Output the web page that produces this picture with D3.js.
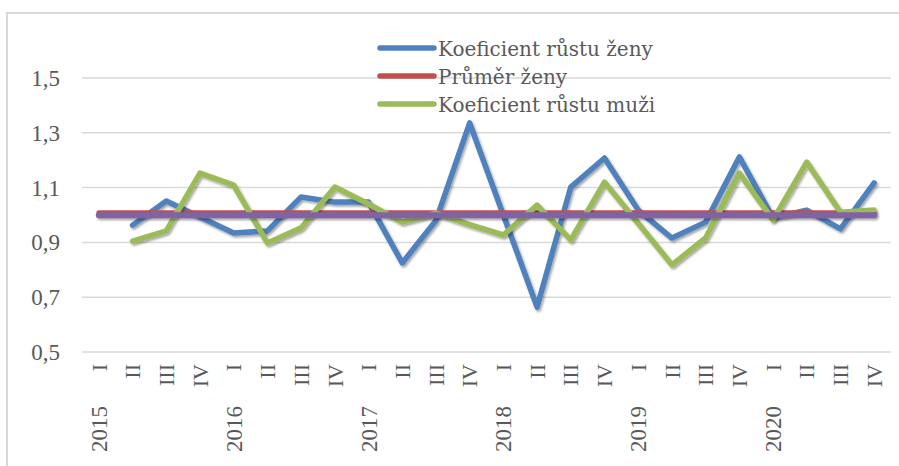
<!DOCTYPE html>
<html>
<head>
<meta charset="utf-8">
<script src="https://cdn.jsdelivr.net/npm/d3@7"></script>
<style>
  html, body { margin: 0; padding: 0; background: #fff; }
  svg { display: block; }
</style>
</head>
<body>
<div id="chart"></div>
<script>
// kategorie (čtvrtletí) a roky
const quarters = ["I", "II", "III", "IV", "I", "II", "III", "IV", "I", "II", "III", "IV",
                  "I", "II", "III", "IV", "I", "II", "III", "IV", "I", "II", "III", "IV"];
const years = ["2015", "2016", "2017", "2018", "2019", "2020"];
const yTicks = [0.5, 0.7, 0.9, 1.1, 1.3, 1.5];

// hodnoty
const koefZeny = [null, 0.963, 1.051, 0.993, 0.934, 0.942, 1.066, 1.047, 1.047, 0.825, 0.98, 1.336,
                  1.0, 0.664, 1.102, 1.208, 1.018, 0.916, 0.974, 1.212, 0.99, 1.018, 0.949, 1.117];
const prumerZeny = [1.008, 1.008, 1.008, 1.008, 1.008, 1.008, 1.008, 1.008, 1.008, 1.008, 1.008, 1.008,
                    1.008, 1.008, 1.008, 1.008, 1.008, 1.008, 1.008, 1.008, 1.008, 1.008, 1.008, 1.008];
const koefMuzi = [null, 0.905, 0.942, 1.153, 1.109, 0.898, 0.953, 1.102, 1.04, 0.974, 1.007, 0.965,
                  0.927, 1.036, 0.909, 1.12, 0.97, 0.818, 0.916, 1.153, 0.982, 1.193, 1.01, 1.018];
const prumerMuzi = [0.999, 0.999, 0.999, 0.999, 0.999, 0.999, 0.999, 0.999, 0.999, 0.999, 0.999, 0.999,
                    0.999, 0.999, 0.999, 0.999, 0.999, 0.999, 0.999, 0.999, 0.999, 0.999, 0.999, 0.999];

const series = [
    { name: "Koeficient růstu ženy", values: koefZeny, color: "#4f81bd", width: 5.5, legend: true },
    { name: "Průměr ženy", values: prumerZeny, color: "#c0504d", width: 5, legend: true },
    { name: "Koeficient růstu muži", values: koefMuzi, color: "#9bbb59", width: 5.5, legend: true },
    { name: "Průměr muži", values: prumerMuzi, color: "#8064a2", width: 6, legend: false }
];

const width = 899, height = 466;
const svg = d3.select("#chart").append("svg")
    .attr("width", width)
    .attr("height", height);

// stín čar jako v Excelu (oblast filtru v souřadnicích plátna, jinak vodorovné čáry zmizí)
const defs = svg.append("defs");
defs.append("filter")
    .attr("id", "shadow")
    .attr("filterUnits", "userSpaceOnUse")
    .attr("x", 0).attr("y", 0)
    .attr("width", width).attr("height", height)
    .append("feDropShadow")
    .attr("dx", 1.5).attr("dy", 2)
    .attr("stdDeviation", 1.3)
    .attr("flood-color", "#000")
    .attr("flood-opacity", 0.35);

// rámeček
svg.append("rect")
    .attr("x", 7).attr("y", 13)
    .attr("width", 1000).attr("height", 1000)
    .attr("fill", "none")
    .attr("stroke", "#d9d9d9")
    .attr("stroke-width", 2);

const idx = d3.range(quarters.length);
const x = d3.scalePoint()
    .domain(idx)
    .range([82, 891])
    .padding(0.5);

const y = d3.scaleLinear()
    .domain([0.5, 1.5])
    .range([352, 78]);

// mřížka + popisky osy Y
svg.append("g")
    .selectAll("line")
    .data(yTicks)
    .enter().append("line")
    .attr("x1", 82).attr("x2", 891)
    .attr("y1", d => y(d)).attr("y2", d => y(d))
    .attr("stroke", "#d9d9d9")
    .attr("stroke-width", 1.5);

svg.append("g")
    .selectAll("text")
    .data(yTicks)
    .enter().append("text")
    .attr("x", 60)
    .attr("y", d => y(d))
    .attr("dy", "0.35em")
    .attr("text-anchor", "end")
    .attr("font-family", "'Liberation Serif', serif")
    .attr("font-size", 23)
    .attr("fill", "#595959")
    .text(d => d3.format(".1f")(d).replace(".", ","));

// popisky čtvrtletí
svg.append("g")
    .selectAll("text")
    .data(idx)
    .enter().append("text")
    .attr("transform", d => `translate(${x(d)},364) rotate(-90)`)
    .attr("dy", "0.35em")
    .attr("text-anchor", "end")
    .attr("font-family", "'Liberation Serif', serif")
    .attr("font-size", 22)
    .attr("fill", "#595959")
    .text(d => quarters[d]);

// popisky roků
svg.append("g")
    .selectAll("text")
    .data(years)
    .enter().append("text")
    .attr("transform", (d, i) => `translate(${x(i * 4)},406) rotate(-90)`)
    .attr("dy", "0.35em")
    .attr("text-anchor", "end")
    .attr("font-family", "'Liberation Serif', serif")
    .attr("font-size", 23)
    .attr("fill", "#595959")
    .text(d => d);

// čáry
const line = d3.line()
    .defined(d => d.v !== null)
    .x(d => x(d.i))
    .y(d => y(d.v));

svg.append("g")
    .selectAll("path")
    .data(series)
    .enter().append("path")
    .attr("d", s => line(s.values.map((v, i) => ({ i, v }))))
    .attr("fill", "none")
    .attr("stroke", s => s.color)
    .attr("stroke-width", s => s.width)
    .attr("stroke-linecap", "round")
    .attr("stroke-linejoin", "round")
    .attr("filter", "url(#shadow)");

// legenda
const legend = svg.append("g")
    .selectAll("g")
    .data(series.filter(s => s.legend))
    .enter().append("g")
    .attr("transform", (d, i) => `translate(378,${48 + i * 28})`);

legend.append("line")
    .attr("x1", 2).attr("x2", 56)
    .attr("stroke", d => d.color)
    .attr("stroke-width", 5.5)
    .attr("stroke-linecap", "round");

legend.append("text")
    .attr("x", 60)
    .attr("dy", "0.38em")
    .attr("font-family", "'DejaVu Serif', serif")
    .attr("font-size", 20)
    .attr("fill", "#595959")
    .text(d => d.name);
</script>
</body>
</html>
